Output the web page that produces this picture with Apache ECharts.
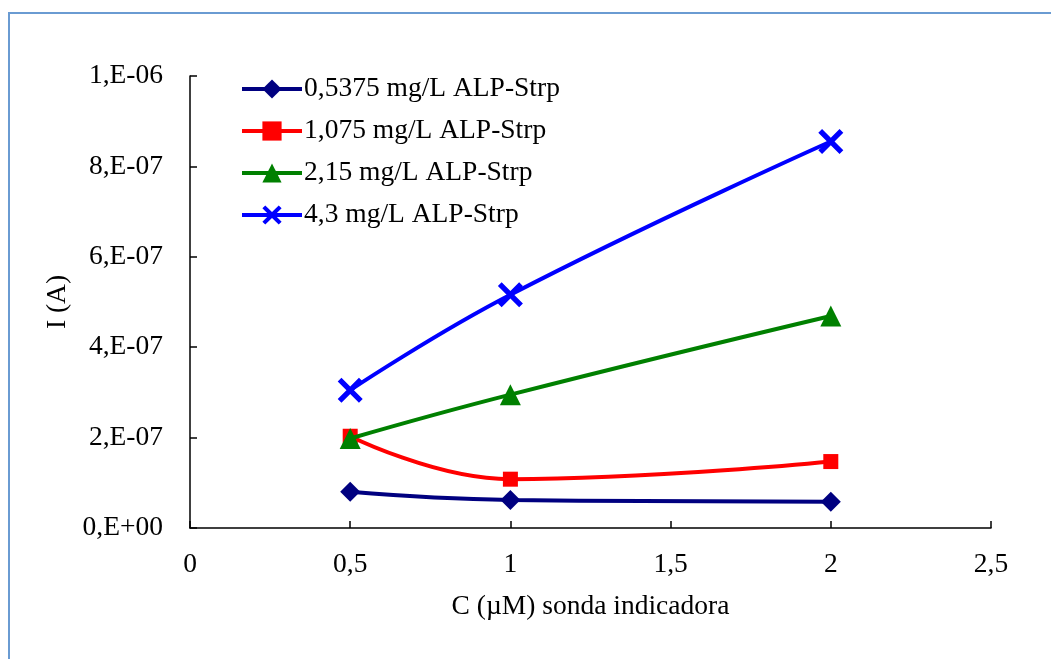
<!DOCTYPE html>
<html>
<head>
<meta charset="utf-8">
<script src="https://cdn.jsdelivr.net/npm/echarts@6/dist/echarts.min.js"></script>
<style>
html,body{margin:0;padding:0;background:#fff;}
#wrap{position:relative;width:1051px;height:659px;overflow:hidden;}
#frame{position:absolute;left:8px;top:12px;width:1100px;height:700px;border-left:2px solid #6a9bd2;border-top:2px solid #6a9bd2;pointer-events:none;}
#chart{position:absolute;left:0;top:0;width:1051px;height:659px;}
</style>
</head>
<body>
<div id="wrap"><div id="chart"></div><div id="frame"></div></div>
<script>
const xValues = [0.5, 1, 2];
const seriesNames = ['0,5375 mg/L ALP-Strp', '1,075 mg/L ALP-Strp', '2,15 mg/L ALP-Strp', '4,3 mg/L ALP-Strp'];
const s0537 = [8.0e-8, 6.2e-8, 5.8e-8];
const s1075 = [2.03e-7, 1.08e-7, 1.47e-7];
const s215 = [1.98e-7, 2.95e-7, 4.69e-7];
const s43 = [3.05e-7, 5.16e-7, 8.55e-7];
const xTickLabels = {0: '0', 0.5: '0,5', 1: '1', 1.5: '1,5', 2: '2', 2.5: '2,5'};
const yTickLabels = ['0,E+00', '2,E-07', '4,E-07', '6,E-07', '8,E-07', '1,E-06'];
const xTitle = 'C (µM) sonda indicadora';
const yTitle = 'I (A)';

const FONT = 'Liberation Serif';
const FS = 27.5;
const crossPath = 'path://M0,3 L3,0 L10,7 L17,0 L20,3 L13,10 L20,17 L17,20 L10,13 L3,20 L0,17 L7,10 Z';

function pair(vals) { return xValues.map((x, i) => [x, vals[i]]); }

const styles = [
  {color: '#000080', symbol: 'diamond', size: 20},
  {color: '#ff0000', symbol: 'rect', size: 15},
  {color: '#008000', symbol: 'triangle', size: 21},
  {color: '#0000ff', symbol: crossPath, size: 25}
];
const allData = [s0537, s1075, s215, s43];

const chart = echarts.init(document.getElementById('chart'), null, {renderer: 'canvas'});
chart.setOption({
  animation: false,
  backgroundColor: '#fff',
  textStyle: {fontFamily: FONT},
  grid: {left: 190, right: 60, top: 76, bottom: 131, containLabel: false},
  legend: {
    orient: 'vertical',
    left: 235,
    top: 70,
    itemWidth: 60,
    itemHeight: 24,
    itemGap: 14,
    lineStyle: {width: 4},
    textStyle: {fontFamily: FONT, fontSize: FS, color: '#000', lineHeight: 28, padding: [0,0,0,-3]},
    data: seriesNames
  },
  xAxis: {
    type: 'value',
    min: 0, max: 2.5, interval: 0.5,
    name: xTitle,
    nameLocation: 'middle',
    nameGap: 65,
    nameTextStyle: {fontFamily: FONT, fontSize: FS, color: '#000'},
    axisLine: {show: true, onZero: false, lineStyle: {color: '#000', width: 1.5}},
    axisTick: {show: true, inside: true, length: 7, lineStyle: {color: '#000', width: 1.5}},
    axisLabel: {fontFamily: FONT, fontSize: FS, color: '#000', margin: 23,
      formatter: v => xTickLabels[Math.round(v * 10) / 10] ?? ''},
    splitLine: {show: false}
  },
  yAxis: {
    type: 'value',
    min: 0, max: 1e-6, interval: 2e-7,
    name: yTitle,
    nameLocation: 'middle',
    nameGap: 116,
    nameRotate: 90,
    nameTextStyle: {fontFamily: FONT, fontSize: FS, color: '#000'},
    axisLine: {show: true, lineStyle: {color: '#000', width: 1.5}},
    axisTick: {show: true, inside: true, length: 7, lineStyle: {color: '#000', width: 1.5}},
    axisLabel: {fontFamily: FONT, fontSize: FS, color: '#000', margin: 27,
      formatter: v => yTickLabels[Math.round(v / 2e-7)] ?? ''},
    splitLine: {show: false}
  },
  series: seriesNames.map((n, i) => ({
    name: n,
    type: 'line',
    data: pair(allData[i]),
    smooth: 0.45,
    symbol: styles[i].symbol,
    symbolSize: styles[i].size,
    showSymbol: true,
    lineStyle: {color: styles[i].color, width: 4},
    itemStyle: {color: styles[i].color, borderWidth: 0},
    z: 2 + i
  }))
});
</script>
</body>
</html>
